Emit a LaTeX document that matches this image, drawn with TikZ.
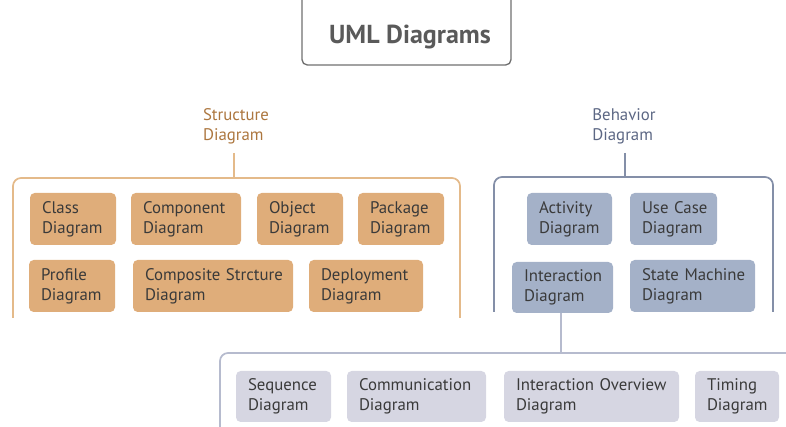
\documentclass[tikz,border=0pt]{standalone}
\usepackage{fontspec}
\setmainfont{PT Sans}
\definecolor{titlec}{RGB}{112,112,112}
\definecolor{titletext}{RGB}{90,90,90}
\definecolor{sfill}{RGB}{223,173,122}
\definecolor{sline}{RGB}{228,186,138}
\definecolor{stext}{RGB}{172,118,62}
\definecolor{bfill}{RGB}{164,177,200}
\definecolor{bline}{RGB}{132,143,168}
\definecolor{btext}{RGB}{92,103,132}
\definecolor{ifill}{RGB}{214,214,226}
\definecolor{iline}{RGB}{182,187,206}
\definecolor{boxtext}{RGB}{58,58,58}
\newcommand\ubox[7]{%
  \pgfmathsetmacro\uw{(#5-#3)*0.75}%
  \pgfmathsetmacro\uh{(#6-#4)*0.75}%
  \pgfmathsetmacro\utw{(#5-#3-24)*0.75}%
  \node[#2, minimum width=\uw pt, minimum height=\uh pt, text width=\utw pt] (#1) at ({(#3+#5)/2},{(#4+#6)/2}) {#7};}
\newcommand\nobrk{\hyphenpenalty=10000\relax\exhyphenpenalty=10000\relax\hbadness=10000\relax\hfuzz=30pt\relax}
\tikzset{
  diag/.style={rounded corners=3.5pt, inner xsep=9pt, inner ysep=0pt, align=left, text=boxtext,
    font=\fontsize{12.6}{15}\selectfont, execute at begin node=\nobrk},
  sbox/.style={diag, fill=sfill},
  bbox/.style={diag, fill=bfill},
  ibox/.style={diag, fill=ifill},
  lab/.style={align=left, inner sep=1pt, font=\fontsize{12.6}{15}\selectfont},
}
\begin{document}
\begin{tikzpicture}[x=0.75pt,y=-0.75pt]
\useasboundingbox (0,0) rectangle (786,427);
\clip (0,0) rectangle (786,427);
% title
\draw[titlec, line width=1pt, rounded corners=4pt] (302,-10) rectangle (511,65);
\node[font=\bfseries\fontsize{19.5}{22}\selectfont, text=titletext] (title) at (410,37) {UML Diagrams};
% structure
\node[lab, text=stext] (slab) at (236,126) {Structure\\Diagram};
\coordinate (sb) at (234,178);
\draw[sline, line width=1.3pt] (sb |- 0,153) -- (sb);
\draw[sline, line width=1.3pt, rounded corners=6pt] (13,318) -- (13,178) -- (sb) -- (460,178) -- (460,318);
\ubox{class}{sbox}{30}{193}{116}{245}{Class\\Diagram}
\ubox{comp}{sbox}{131}{193}{241}{245}{Component\\Diagram}
\ubox{obj}{sbox}{257}{193}{343}{245}{Object\\Diagram}
\ubox{pack}{sbox}{358}{193}{444}{245}{Package\\Diagram}
\ubox{prof}{sbox}{29}{260}{115}{312}{Profile\\Diagram}
\ubox{compo}{sbox}{133}{260}{293}{312}{Composite~Strcture\\Diagram}
\ubox{depl}{sbox}{309}{260}{423}{312}{Deployment\\Diagram}
% behavior
\node[lab, text=btext] (blab) at (624,126) {Behavior\\Diagram};
\coordinate (bb) at (625,177);
\draw[bline, line width=1.3pt] (bb |- 0,153) -- (bb);
\draw[bline, line width=1.3pt, rounded corners=6pt] (494,312) -- (494,177) -- (bb) -- (773,177) -- (773,312);
\ubox{act}{bbox}{527}{193}{612}{245}{Activity\\Diagram}
\ubox{use}{bbox}{630}{193}{717}{245}{Use~Case\\Diagram}
\ubox{inter}{bbox}{512}{262}{613}{313}{Interaction\\Diagram}
\ubox{state}{bbox}{630}{260}{755}{312}{State~Machine\\Diagram}
% interaction
\coordinate (ib) at (561,353);
\draw[iline, line width=1.3pt] (inter.south -| ib) -- (ib);
\draw[iline, line width=1.3pt, rounded corners=6pt] (220,440) -- (220,353) -- (ib) -- (800,353);
\ubox{seq}{ibox}{236}{371}{331}{422}{Sequence\\Diagram}
\ubox{comm}{ibox}{347}{371}{486}{422}{Communication\\Diagram}
\ubox{over}{ibox}{504}{371}{679}{422}{Interaction~Overview\\Diagram}
\ubox{tim}{ibox}{695}{371}{779}{422}{Timing\\Diagram}
\end{tikzpicture}
\end{document}
